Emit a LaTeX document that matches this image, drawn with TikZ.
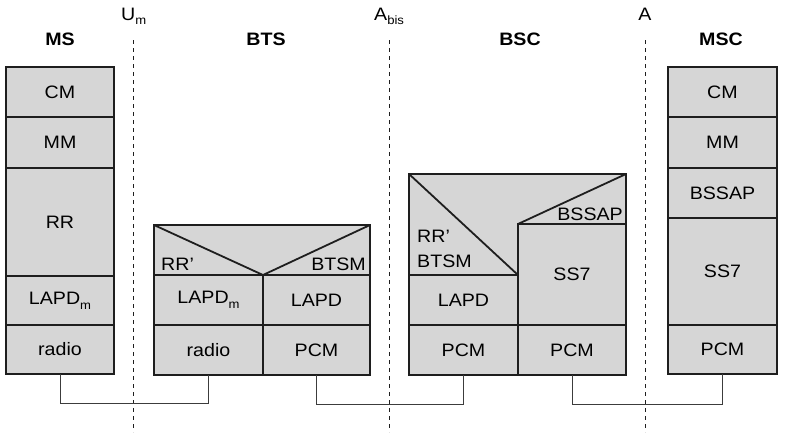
\documentclass[tikz,border=0pt]{standalone}
\usepackage{fontspec}
\setmainfont{Liberation Sans}[FakeStretch=1.09]
\definecolor{boxgray}{RGB}{214,214,214}
\definecolor{edgeblack}{RGB}{30,30,30}
\definecolor{wiregray}{RGB}{60,60,60}
\newcommand{\lowsub}[1]{\raisebox{-0.5ex}{\fontsize{12}{12}\selectfont #1}}
\begin{document}
\begin{tikzpicture}[x=1pt,y=-1pt,
  font=\fontsize{18}{21}\selectfont,
  cell/.style={draw=edgeblack, line width=1.8pt, fill=boxgray, inner sep=0pt, outer sep=0pt},
  regionfill/.style={fill=boxgray},
  edge/.style={draw=edgeblack, line width=1.8pt, line join=miter},
  hdr/.style={font=\fontsize{18}{21}\selectfont\bfseries, anchor=base},
  iflabel/.style={anchor=base, inner sep=0pt},
  divider/.style={draw=edgeblack, line width=0.8pt, dash pattern=on 4pt off 4pt},
  wire/.style={draw=wiregray, line width=1pt}
]
\useasboundingbox (0,0) rectangle (788,432);

% interface dashed lines
\coordinate (umtop) at (133,40);  \coordinate (umbot) at (133,432);
\coordinate (abtop) at (389,40);  \coordinate (abbot) at (389,432);
\coordinate (atop)  at (645,40);  \coordinate (abot)  at (645,432);
\draw[divider] (umtop) -- (umbot);
\draw[divider] (abtop) -- (abbot);
\draw[divider] (atop) -- (abot);

% interface labels
\node[iflabel, anchor=base west] (lum) at (121,20) {U\lowsub{m}};
\node[iflabel, anchor=base west] (lab) at (374,20) {A\lowsub{bis}};
\node[iflabel] (la) at (645,20) {A};

% headers
\node[hdr] (hms)  at (60,45)  {MS};
\node[hdr] (hbts) at (266,45) {BTS};
\node[hdr] (hbsc) at (520,45) {BSC};
\node[hdr] (hmsc) at (721,45) {MSC};

% MS stack
\node[cell, minimum width=108pt, minimum height=50pt]  (mscm)  at (60,92)    {CM};
\node[cell, minimum width=108pt, minimum height=51pt]  (msmm)  at (60,142.5) {MM};
\node[cell, minimum width=108pt, minimum height=108pt] (msrr)  at (60,222)   {RR};
\node[cell, minimum width=108pt, minimum height=49pt]  (mslap) at (60,300.5) {LAPD\lowsub{m}};
\node[cell, minimum width=108pt, minimum height=49pt]  (msrad) at (60,349.5) {radio};

% MSC stack
\node[cell, minimum width=109pt, minimum height=50pt]  (msccm)  at (722.5,92)    {CM};
\node[cell, minimum width=109pt, minimum height=51pt]  (mscmm)  at (722.5,142.5) {MM};
\node[cell, minimum width=109pt, minimum height=50pt]  (mscbss) at (722.5,193)   {BSSAP};
\node[cell, minimum width=109pt, minimum height=107pt] (mscss7) at (722.5,271.5) {SS7};
\node[cell, minimum width=109pt, minimum height=49pt]  (mscpcm) at (722.5,349.5) {PCM};

% BTS upper region
\fill[regionfill] (154,225) rectangle (370,275);
\draw[edge] (154,275) -- (154,225) -- (370,225) -- (370,275);
\draw[edge] (154,225) -- (263,275) -- (370,225);
\node[iflabel, anchor=base west] (btsrr) at (161,270) {RR’};
\node[iflabel, anchor=base east] (btsbtsm) at (366,270) {BTSM};
% BTS lower cells
\node[cell, minimum width=109pt, minimum height=50pt] (btslapm) at (208.5,300) {LAPD\lowsub{m}};
\node[cell, minimum width=107pt, minimum height=50pt] (btslapd) at (316.5,300) {LAPD};
\node[cell, minimum width=109pt, minimum height=50pt] (btsrad)  at (208.5,350) {radio};
\node[cell, minimum width=107pt, minimum height=50pt] (btspcm)  at (316.5,350) {PCM};

% BSC upper region
\fill[regionfill] (409,174) -- (626,174) -- (626,224) -- (518,224) -- (518,275) -- (409,275) -- cycle;
\draw[edge] (409,275) -- (409,174) -- (626,174) -- (626,224);
\draw[edge] (409,174) -- (518,275);
\draw[edge] (518,224) -- (626,174);
\node[iflabel, anchor=base west] (bscrr)   at (417,242) {RR’};
\node[iflabel, anchor=base west] (bscbtsm) at (417,267) {BTSM};
\node[iflabel, anchor=base east] (bscbss)  at (623,220) {BSSAP};
% BSC lower cells
\node[cell, minimum width=109pt, minimum height=50pt]  (bsclap)  at (463.5,300) {LAPD};
\node[cell, minimum width=108pt, minimum height=101pt] (bscss7)  at (572,274.5) {SS7};
\node[cell, minimum width=109pt, minimum height=50pt]  (bscpcm1) at (463.5,350) {PCM};
\node[cell, minimum width=108pt, minimum height=50pt]  (bscpcm2) at (572,350)   {PCM};

% physical connections
\draw[wire] (msrad.south) -- ++(0,29) -| (btsrad.south);
\draw[wire] (btspcm.south) -- ++(0,29) -| (bscpcm1.south);
\draw[wire] (bscpcm2.south) -- ++(0,29) -| (mscpcm.south);
\end{tikzpicture}
\end{document}
